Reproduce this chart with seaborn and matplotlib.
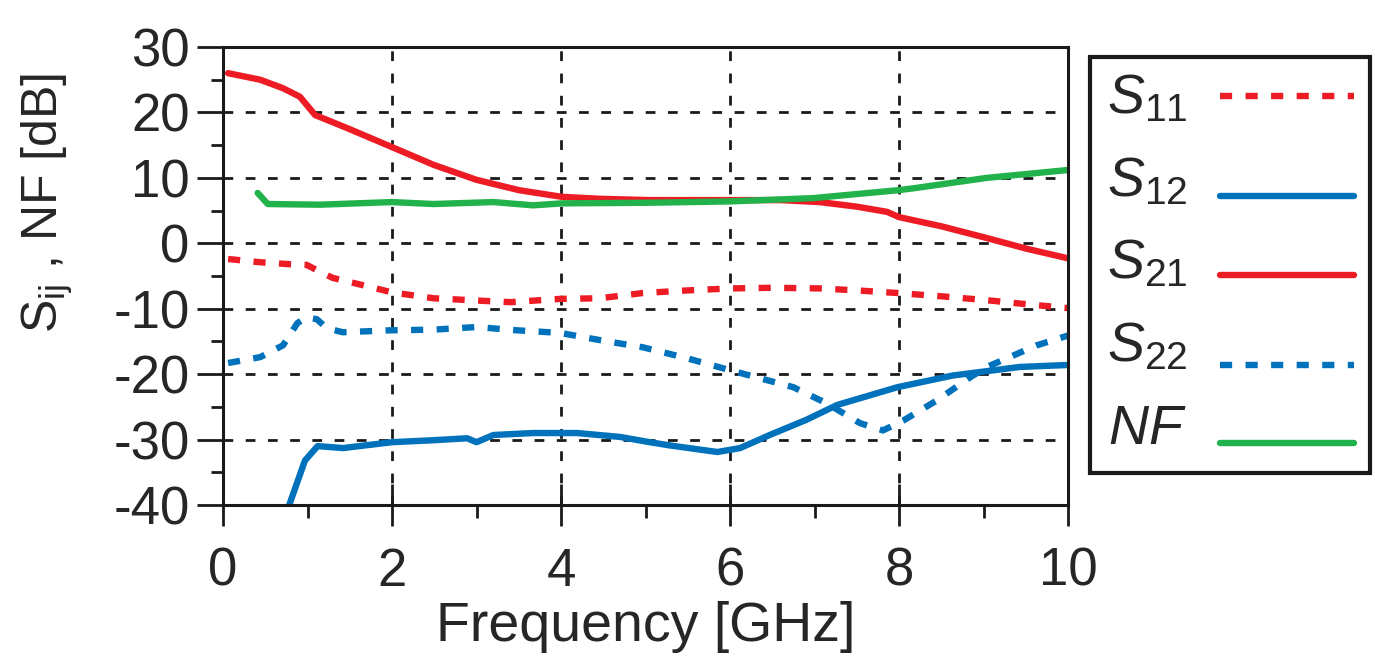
import numpy as np
import pandas as pd
import matplotlib
matplotlib.use("Agg")
import matplotlib.pyplot as plt
import matplotlib.transforms as mtransforms
import seaborn as sns
from matplotlib.ticker import MultipleLocator

# ---------------------------
# data
# ---------------------------
s11_f = [0.06, 0.44, 0.79, 0.99, 1.11, 1.3, 1.59, 2.0, 2.49, 3.08, 3.4, 3.99, 4.46, 4.97, 5.5, 6.0, 6.5, 7.06, 7.5, 7.98, 8.5, 9.04, 9.5, 10.0]
s11 = [-2.4, -2.9, -3.2, -3.3, -4.1, -5.3, -6.2, -7.5, -8.4, -8.8, -9.0, -8.5, -8.4, -7.6, -7.2, -6.9, -6.8, -6.9, -7.2, -7.6, -8.1, -8.7, -9.3, -9.9]

s12_f = [0.77, 0.97, 1.12, 1.42, 2.0, 2.49, 2.89, 3.0, 3.2, 3.67, 4.19, 4.7, 5.05, 5.29, 5.85, 6.12, 6.47, 6.9, 7.27, 7.98, 8.64, 9.43, 10.0]
s12 = [-40.5, -33.2, -31.0, -31.3, -30.4, -30.1, -29.8, -30.4, -29.3, -29.0, -29.0, -29.6, -30.4, -30.9, -31.9, -31.3, -29.3, -27.0, -24.7, -22.0, -20.2, -18.9, -18.6]

s21_f = [0.06, 0.44, 0.71, 0.91, 1.09, 1.47, 2.0, 2.49, 3.0, 3.51, 4.01, 4.46, 5.05, 6.0, 6.6, 7.06, 7.5, 7.86, 8.0, 8.5, 9.04, 9.5, 10.0]
s21 = [26.0, 25.0, 23.7, 22.4, 19.6, 17.6, 14.7, 12.0, 9.7, 8.1, 7.1, 6.8, 6.6, 6.6, 6.6, 6.3, 5.6, 4.8, 4.0, 2.6, 0.8, -0.8, -2.3]

s22_f = [0.06, 0.44, 0.71, 0.88, 0.99, 1.11, 1.23, 1.42, 1.98, 2.49, 3.0, 3.48, 3.99, 4.46, 4.97, 5.5, 6.0, 6.75, 7.15, 7.54, 7.81, 8.05, 8.45, 8.84, 9.04, 9.63, 10.0]
s22 = [-18.3, -17.4, -15.6, -12.2, -11.3, -11.6, -13.0, -13.6, -13.3, -13.2, -12.8, -13.3, -13.7, -14.8, -15.9, -17.6, -19.4, -22.0, -24.5, -27.5, -28.6, -27.1, -24.0, -20.5, -18.9, -15.6, -14.1]

nf_f = [0.41, 0.53, 1.15, 2.0, 2.49, 3.2, 3.67, 4.01, 5.05, 6.0, 6.98, 7.98, 8.17, 9.04, 10.0]
nf = [7.7, 6.0, 5.9, 6.3, 6.0, 6.3, 5.8, 6.1, 6.2, 6.4, 6.9, 8.1, 8.4, 10.0, 11.2]

labels = ["$S_{11}$", "$S_{12}$", "$S_{21}$", "$S_{22}$", "$NF$"]
colors = ["#ED1C24", "#0072BC", "#ED1C24", "#0072BC", "#22B24C"]
dashed = [True, False, False, True, False]

series = [(s11_f, s11), (s12_f, s12), (s21_f, s21), (s22_f, s22), (nf_f, nf)]
frames = []
for lab, (f, v) in zip(labels, series):
    frames.append(pd.DataFrame({"freq": f, "val": v, "trace": lab}))
df = pd.concat(frames, ignore_index=True)

# ---------------------------
# style
# ---------------------------
sns.set_style("white")
plt.rcParams["font.family"] = ["Liberation Sans", "DejaVu Sans"]
plt.rcParams["mathtext.fontset"] = "custom"
plt.rcParams["mathtext.rm"] = "Liberation Sans"
plt.rcParams["mathtext.it"] = "Liberation Sans:italic"

fig = plt.figure(figsize=(13.75, 6.61), dpi=100)
ax = fig.add_axes([223 / 1375, 1 - 505 / 661, 845 / 1375, 458 / 661])

lw = 4.6
for lab, col, dsh in zip(labels, colors, dashed):
    sub = df[df["trace"] == lab]
    sns.lineplot(data=sub, x="freq", y="val", ax=ax, color=col,
                 linewidth=lw, estimator=None, sort=False, label=lab,
                 legend=False)
    if dsh:
        ax.lines[-1].set_dashes((1.9, 2.1))

ax.set_xlim(0, 10)
ax.set_ylim(-40, 30)
ax.xaxis.set_major_locator(MultipleLocator(2))
ax.xaxis.set_minor_locator(MultipleLocator(1))
ax.yaxis.set_major_locator(MultipleLocator(10))
ax.yaxis.set_minor_locator(MultipleLocator(5))

ax.grid(True, which="major", color="#1a1a1a", linestyle=(0, (3.5, 4.5)), linewidth=2.0)
ax.set_axisbelow(True)

for sp in ax.spines.values():
    sp.set_color("#1a1a1a")
    sp.set_linewidth(2.2)

ax.tick_params(axis="x", which="major", direction="inout", length=30, width=2.0,
               color="#1a1a1a", labelsize=38, pad=15)
ax.tick_params(axis="x", which="minor", direction="out", length=9, width=2.0, color="#1a1a1a")
ax.tick_params(axis="y", which="major", direction="out", length=19, width=2.0,
               color="#1a1a1a", labelsize=38, pad=5)
ax.tick_params(axis="y", which="minor", direction="out", length=9, width=2.0, color="#1a1a1a")
ax.tick_params(bottom=True, left=True, which="both")

ax.set_xticklabels([f"{int(t)}" for t in ax.get_xticks()])
ax.set_yticklabels([f"{int(t)}" for t in ax.get_yticks()])

ax.set_xlabel("Frequency [GHz]", fontsize=40, labelpad=3)
ax.set_ylabel(r"$\mathregular{S_{ij}}$ , NF [dB]", fontsize=36)
ax.yaxis.set_label_coords(-0.175, 0.66)

# legend box, labels left and samples right
leg = fig.legend(handles=ax.lines[:5], labels=labels, loc="upper left",
                 bbox_to_anchor=(1090 / 1375, 1 - 57 / 661), borderaxespad=0,
                 markerfirst=False, fontsize=40, handlelength=2.4, handletextpad=0.6,
                 labelspacing=0.55, borderpad=0.3, frameon=True, fancybox=False,
                 framealpha=1)
leg.get_frame().set_edgecolor("#1a1a1a")
leg.get_frame().set_linewidth(3.0)

# sample lines sit a bit below the middle of their labels
for hl, dy in zip(leg.get_lines(), [2, 19, 16, 23, 19]):
    hl.set_transform(hl.get_transform() +
                     mtransforms.ScaledTranslation(0, -dy / 100, fig.dpi_scale_trans))

fig.savefig("out.png", dpi=100)
